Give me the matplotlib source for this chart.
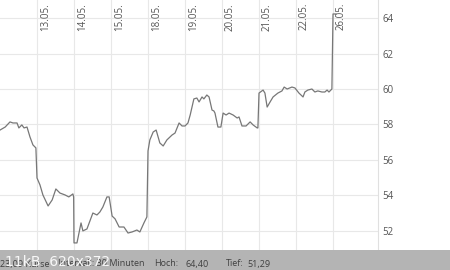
import matplotlib
matplotlib.use('Agg')
import matplotlib.pyplot as plt
from matplotlib.patches import Rectangle

plt.rcParams['font.family'] = ['Open Sans', 'DejaVu Sans']

# trading day index (0 = 13.05.), 30 min bars
days = [-1.00, -0.86, -0.73, -0.65, -0.54, -0.49, -0.41, -0.35, -0.27, -0.19,
        -0.11, -0.03, 0.00, 0.08, 0.16, 0.30, 0.41, 0.51, 0.62, 0.76,
        0.86, 0.97, 0.99, 1.00, 1.08, 1.19, 1.24, 1.35, 1.51, 1.62,
        1.70, 1.78, 1.89, 1.95, 2.03, 2.11, 2.22, 2.35, 2.46, 2.57,
        2.70, 2.78, 2.89, 2.97, 3.00, 3.05, 3.14, 3.22, 3.32, 3.41,
        3.51, 3.65, 3.73, 3.84, 3.92, 4.00, 4.08, 4.14, 4.24, 4.32,
        4.38, 4.46, 4.51, 4.59, 4.65, 4.73, 4.78, 4.81, 4.89, 4.97,
        5.03, 5.11, 5.19, 5.30, 5.41, 5.46, 5.54, 5.65, 5.76, 5.84,
        5.95, 5.97, 6.00, 6.11, 6.16, 6.22, 6.30, 6.38, 6.51, 6.62,
        6.68, 6.76, 6.89, 6.97, 7.08, 7.19, 7.24, 7.32, 7.43, 7.51,
        7.59, 7.70, 7.78, 7.84, 7.89, 7.97, 8.00, 8.08]
price = [57.68, 57.85, 58.14, 58.08, 58.08, 57.80, 57.97, 57.80, 57.85, 57.29,
         56.84, 56.67, 54.97, 54.58, 54.01, 53.39, 53.73, 54.35, 54.12, 54.01,
         53.90, 54.07, 53.90, 51.30, 51.30, 52.43, 51.98, 52.09, 52.99, 52.88,
         53.05, 53.33, 53.90, 53.90, 52.82, 52.66, 52.20, 52.20, 51.86, 51.92,
         52.03, 51.92, 52.43, 52.77, 56.50, 57.12, 57.57, 57.68, 56.95, 56.78,
         57.12, 57.40, 57.51, 58.08, 57.91, 57.91, 58.08, 58.53, 59.44, 59.49,
         59.27, 59.55, 59.44, 59.66, 59.55, 58.81, 58.76, 58.64, 57.85, 57.85,
         58.64, 58.53, 58.64, 58.53, 58.36, 58.42, 57.91, 57.91, 58.14, 57.97,
         57.80, 57.80, 59.77, 59.94, 59.77, 58.98, 59.27, 59.55, 59.77, 59.89,
         60.11, 60.00, 60.11, 60.06, 59.77, 59.55, 59.83, 59.94, 60.00, 59.83,
         59.89, 59.83, 59.83, 59.94, 59.83, 60.00, 64.24, 64.24]

date_labels = ['13.05.', '14.05.', '15.05.', '18.05.', '19.05.',
               '20.05.', '21.05.', '22.05.', '26.05.']
y_ticks = [52, 54, 56, 58, 60, 62, 64]
footer = [(0, '23,09 Kurse'), (58, 'Intervall: 30 Minuten'),
          (154, 'Hoch:'), (185, '64,40'), (226, 'Tief:'), (247, '51,29')]

fig = plt.figure(figsize=(4.5, 2.7), dpi=100)
ax = fig.add_axes([0, 0, 378/450, 1])
ax.set_xlim(-1, 9.216)
ax.set_ylim(49.77, 65.03)

for i in range(len(date_labels)):
    ax.axvline(i, color='#e8e8e8', lw=0.8, zorder=0)
    ax.annotate(date_labels[i], (i, 1), xycoords=('data', 'axes fraction'),
                xytext=(3, -3), textcoords='offset pixels', rotation=90,
                ha='left', va='top', fontsize=7, color='#555555')
for v in y_ticks:
    ax.axhline(v, color='#e8e8e8', lw=0.8, zorder=0)

ax.plot(days, price, color='#777777', lw=0.9, zorder=2)

ax.yaxis.tick_right()
ax.set_yticks(y_ticks)
ax.set_yticklabels([str(v) for v in y_ticks], fontsize=7, color='#555555')
ax.tick_params(axis='y', length=0, pad=3)
ax.set_xticks([])
for s in ['left', 'top', 'bottom']:
    ax.spines[s].set_visible(False)
ax.spines['right'].set_color('#e0e0e0')
ax.spines['right'].set_linewidth(0.8)

# grey info bar at the bottom
fig.patches.append(Rectangle((0, 0), 1, 20/270, transform=fig.transFigure,
                             facecolor='#b4b4b4', edgecolor='none', zorder=5))
for px, txt in footer:
    fig.text(px/450, 6/270, txt, fontsize=6.5, color='#404040', ha='left',
             va='center', zorder=6)
fig.text(5/450, 8/270, '11kB  620x372', fontsize=10, color='white',
         ha='left', va='center', zorder=7, family='DejaVu Sans', alpha=0.9)

fig.savefig('out.png', dpi=100)
